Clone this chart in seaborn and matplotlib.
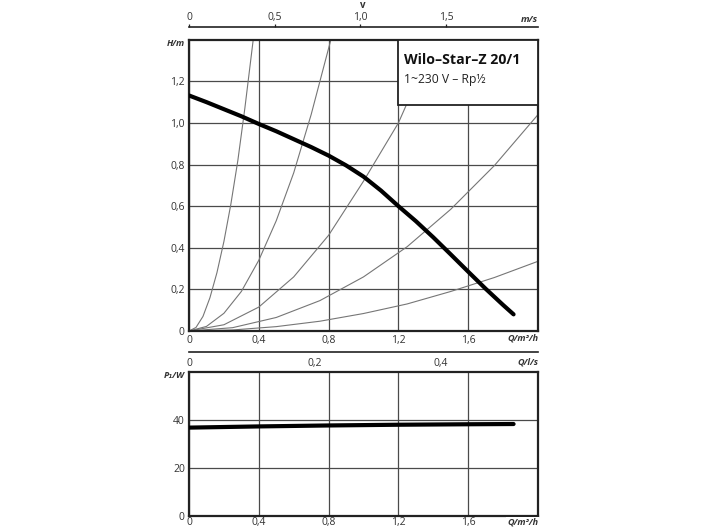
import matplotlib
matplotlib.use('Agg')
import matplotlib.pyplot as plt
import seaborn as sns
from matplotlib.patches import Rectangle

sns.set_theme(style='white')
plt.rcParams['font.family'] = ['Open Sans', 'DejaVu Sans']

# pump curve H(Q)
pump_q = [0, 0.1, 0.2, 0.3, 0.4, 0.5, 0.6, 0.7, 0.8, 0.9, 1.0, 1.1, 1.2,
          1.3, 1.4, 1.5, 1.6, 1.7, 1.8, 1.86]
pump_h = [1.132, 1.10, 1.066, 1.032, 0.995, 0.96, 0.922, 0.884, 0.843, 0.796,
          0.742, 0.675, 0.60, 0.528, 0.45, 0.368, 0.285, 0.203, 0.125, 0.08]

# system curves (thin grey parabolas)
sys1_q = [0, 0.04, 0.08, 0.12, 0.16, 0.2, 0.24, 0.28, 0.32, 0.368]
sys1_h = [0, 0.017, 0.07, 0.16, 0.28, 0.43, 0.61, 0.82, 1.07, 1.4]
sys2_q = [0, 0.1, 0.2, 0.3, 0.4, 0.5, 0.6, 0.7, 0.813]
sys2_h = [0, 0.022, 0.085, 0.19, 0.34, 0.53, 0.76, 1.04, 1.4]
sys3_q = [0, 0.2, 0.4, 0.6, 0.8, 1.0, 1.2, 1.4]
sys3_h = [0, 0.03, 0.115, 0.26, 0.46, 0.72, 1.0, 1.38]
sys4_q = [0, 0.25, 0.5, 0.75, 1.0, 1.25, 1.5, 1.75, 2.0]
sys4_h = [0, 0.016, 0.065, 0.146, 0.26, 0.405, 0.585, 0.795, 1.04]
sys5_q = [0, 0.25, 0.5, 0.75, 1.0, 1.25, 1.5, 1.75, 2.0]
sys5_h = [0, 0.005, 0.021, 0.047, 0.084, 0.13, 0.19, 0.257, 0.335]
systems = [(sys1_q, sys1_h), (sys2_q, sys2_h), (sys3_q, sys3_h),
           (sys4_q, sys4_h), (sys5_q, sys5_h)]

# power curve P1(Q)
pow_q = [0, 0.4, 0.8, 1.2, 1.6, 1.86]
pow_p = [36.7, 37.2, 37.6, 37.9, 38.1, 38.2]

q_ticks = [0, 0.4, 0.8, 1.2, 1.6]
q_labels = ['0', '0,4', '0,8', '1,2', '1,6']
h_ticks = [0, 0.2, 0.4, 0.6, 0.8, 1.0, 1.2]
h_labels = ['0', '0,2', '0,4', '0,6', '0,8', '1,0', '1,2']
p_ticks = [0, 20, 40]
v_ticks = [0, 0.5, 1.0, 1.5]
v_labels = ['0', '0,5', '1,0', '1,5']
ls_ticks = [0, 0.2, 0.4]
ls_labels = ['0', '0,2', '0,4']

W, H = 704, 528
fig = plt.figure(figsize=(7.04, 5.28), dpi=100)


def rect(l, t, r, b):
    return [l / W, 1 - b / H, (r - l) / W, (b - t) / H]


grid_c = '#4a4a4a'
txt_c = '#333333'
fs = 7.5


def style_axes(ax):
    for s in ax.spines.values():
        s.set_color('#222222')
        s.set_linewidth(1.6)
    ax.tick_params(length=0, labelsize=fs, labelcolor=txt_c, pad=3)
    ax.grid(True, color=grid_c, lw=0.9)
    ax.set_axisbelow(True)


# upper chart: head
ax = fig.add_axes(rect(189, 39.7, 538, 331))
style_axes(ax)
for q, h in systems:
    sns.lineplot(x=q, y=h, ax=ax, color='#767676', lw=0.8, sort=False, zorder=2)
sns.lineplot(x=pump_q, y=pump_h, ax=ax, color='black', lw=3, sort=False, zorder=4)
ax.set_xlim(0, 2.0)
ax.set_ylim(0, 1.4)
ax.set_xticks(q_ticks, q_labels)
ax.set_yticks(h_ticks, h_labels)
ax.set_xlabel('')
ax.set_ylabel('')
ax.add_patch(Rectangle((0.6, 0.776), 0.4, 0.224, transform=ax.transAxes,
                       facecolor='white', edgecolor='#222222', lw=1.3, zorder=5))
ax.text(0.615, 0.955, 'Wilo–Star–Z 20/1', transform=ax.transAxes, fontsize=10.2,
        fontweight='bold', va='top', ha='left', color='#111111', zorder=6)
ax.text(0.615, 0.885, '1~230 V – Rp½', transform=ax.transAxes, fontsize=8.7,
        va='top', ha='left', color='#222222', zorder=6)
fig.text(185 / W, 1 - 44 / H, 'H/m', fontsize=6.5, fontweight='bold',
         fontstyle='italic', ha='right', va='center', color=txt_c)
fig.text(538 / W, 1 - 338 / H, 'Q/m³/h', fontsize=6.5, fontweight='bold',
         fontstyle='italic', ha='right', va='center', color=txt_c,
         bbox=dict(facecolor='white', edgecolor='none', pad=0.5))

# velocity scale on top
axv = fig.add_axes(rect(189, 26.7, 538, 26.8))
axv.set_facecolor('none')
for k in ['left', 'right', 'bottom']:
    axv.spines[k].set_visible(False)
axv.spines['top'].set_linewidth(1.2)
axv.spines['top'].set_color('#222222')
axv.set_xlim(0, 2.036)
axv.set_yticks([])
axv.xaxis.tick_top()
axv.set_xticks(v_ticks, v_labels)
axv.tick_params(axis='x', direction='out', length=2.5, width=0.9, color='#222222',
                labelsize=fs, labelcolor=txt_c, pad=0.5)
fig.text(538 / W, 1 - 19 / H, 'm/s', fontsize=6.8, fontweight='bold',
         fontstyle='italic', ha='right', va='center', color=txt_c)
fig.text(363 / W, 1 - 5 / H, 'v', fontsize=7, fontweight='bold',
         ha='center', va='center', color=txt_c)

# flow scale in l/s
axl = fig.add_axes(rect(189, 351.6, 538, 351.7))
axl.set_facecolor('none')
for k in ['left', 'right', 'top']:
    axl.spines[k].set_visible(False)
axl.spines['bottom'].set_linewidth(1.2)
axl.spines['bottom'].set_color('#222222')
axl.set_xlim(0, 2.0 / 3.6)
axl.set_yticks([])
axl.set_xticks(ls_ticks, ls_labels)
axl.tick_params(axis='x', direction='out', length=3, width=0.9, color='#222222',
                labelsize=fs, labelcolor=txt_c, pad=1.5)
fig.text(538 / W, 1 - 362 / H, 'Q/l/s', fontsize=6.5, fontweight='bold',
         fontstyle='italic', ha='right', va='center', color=txt_c)

# lower chart: power
axp = fig.add_axes(rect(189, 371.7, 538, 515.7))
style_axes(axp)
axp.tick_params(axis='x', pad=1.2)
sns.lineplot(x=pow_q, y=pow_p, ax=axp, color='black', lw=3, sort=False, zorder=4)
axp.set_xlim(0, 2.0)
axp.set_ylim(0, 60)
axp.set_xticks(q_ticks, q_labels)
axp.set_yticks(p_ticks, [str(t) for t in p_ticks])
axp.set_xlabel('')
axp.set_ylabel('')
fig.text(185 / W, 1 - 376 / H, 'P₁/W', fontsize=6.5, fontweight='bold',
         fontstyle='italic', ha='right', va='center', color=txt_c)
fig.text(538 / W, 1 - 522 / H, 'Q/m³/h', fontsize=6.5, fontweight='bold',
         fontstyle='italic', ha='right', va='center', color=txt_c,
         bbox=dict(facecolor='white', edgecolor='none', pad=0.5))

fig.savefig('out.png', dpi=100)
